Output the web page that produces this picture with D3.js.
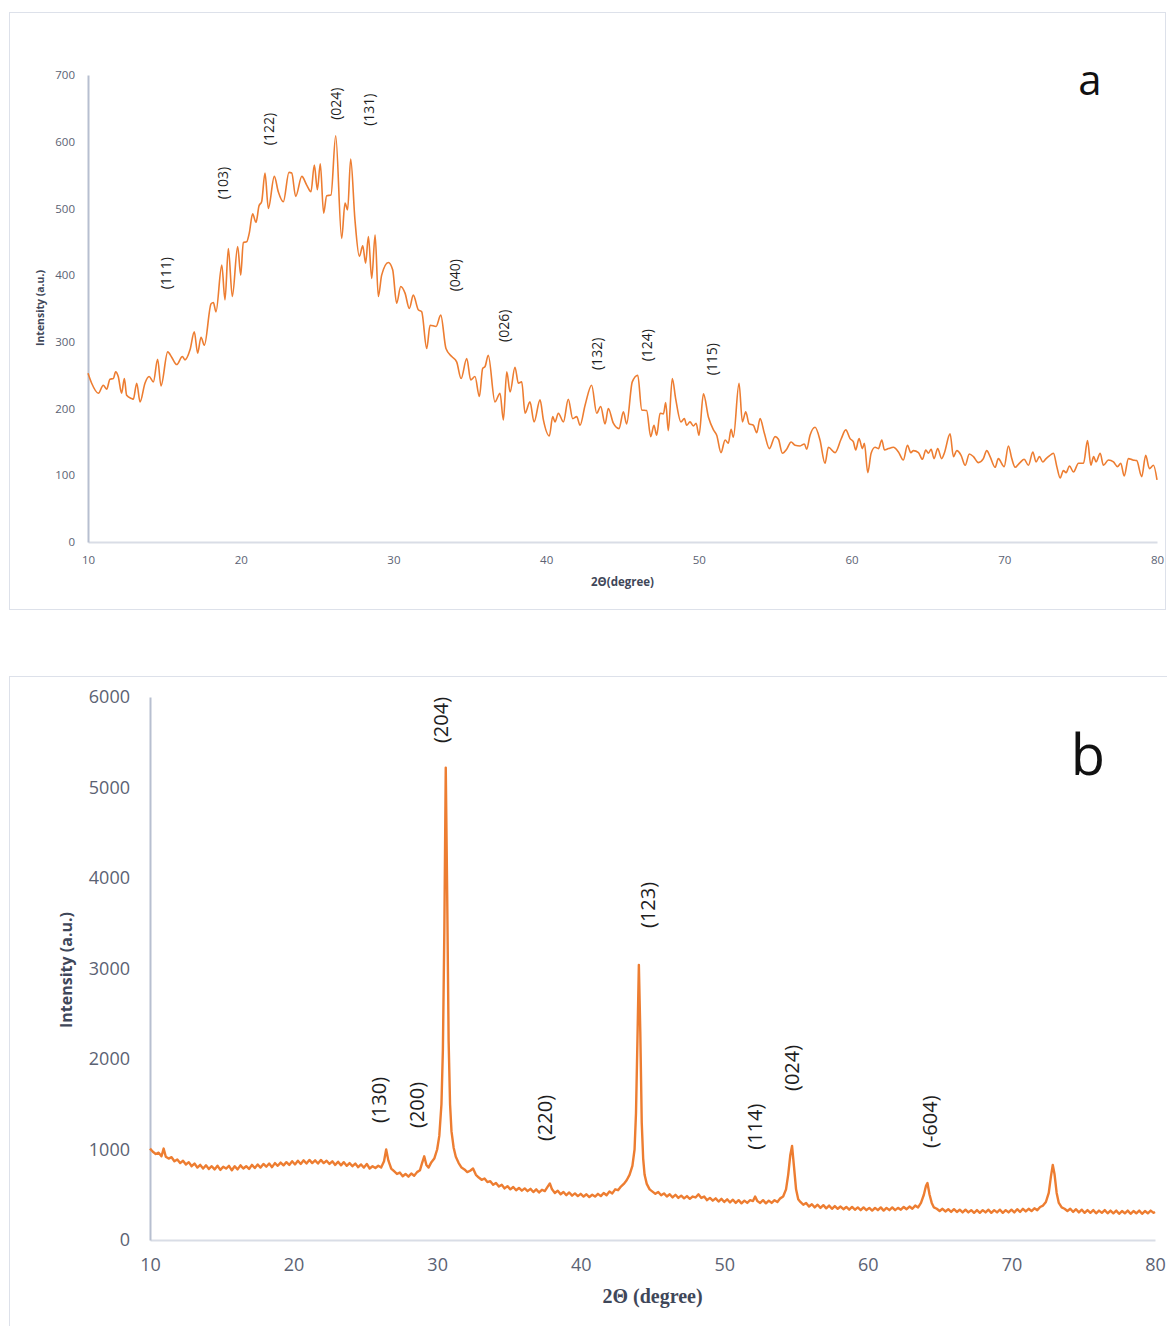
<!DOCTYPE html>
<html>
<head>
<meta charset="utf-8">
<script src="https://cdn.jsdelivr.net/npm/d3@7"></script>
<style>
  body { margin: 0; background: #fff; }
  svg { display: block; font-family: "Open Sans", sans-serif; }
</style>
</head>
<body>
<svg id="chart"></svg>
<script>
var svgWidth = 1167,
    svgHeight = 1326;

// panel a: amorphous pattern, [2theta, intensity]
var patternA = [
  [10.0,253],[10.24,238],[10.68,223],[11.0,235],[11.22,229],[11.44,244],[11.66,245],[11.81,255],[11.98,248],[12.2,223],
  [12.38,245],[12.53,220],[12.86,215],[12.97,214],[13.19,238],[13.41,210],[13.73,238],[14.0,248],[14.28,240],[14.56,274],
  [14.78,234],[15.22,285],[15.48,277],[15.81,266],[16.18,278],[16.35,273],[16.68,288],[16.96,315],[17.18,283],[17.4,307],
  [17.62,295],[18.06,357],[18.21,359],[18.38,345],[18.76,415],[18.97,363],[19.19,440],[19.45,368],[19.8,443],[20.0,400],
  [20.17,449],[20.39,450],[20.56,463],[20.78,492],[21.0,479],[21.2,504],[21.37,510],[21.59,553],[21.81,500],[22.2,548],
  [22.46,525],[22.79,510],[23.16,554],[23.34,553],[23.6,518],[24.0,548],[24.32,535],[24.6,525],[24.82,565],[25.02,528],
  [25.21,567],[25.43,493],[25.63,519],[25.91,520],[26.22,609],[26.61,455],[26.83,508],[27.0,498],[27.2,574],[27.48,483],
  [27.77,428],[27.99,444],[28.18,418],[28.36,458],[28.58,395],[28.8,460],[29.01,368],[29.23,400],[29.67,419],[29.95,408],
  [30.21,358],[30.48,383],[30.76,373],[31.04,350],[31.3,370],[31.63,348],[31.85,345],[32.18,290],[32.4,325],[32.79,323],
  [33.1,340],[33.44,290],[33.82,278],[34.14,270],[34.43,245],[34.8,275],[35.06,243],[35.34,248],[35.63,218],[35.84,260],
  [36.0,263],[36.21,280],[36.65,210],[36.98,223],[37.2,183],[37.42,255],[37.64,225],[37.96,262],[38.18,238],[38.4,240],
  [38.62,193],[38.94,210],[39.21,180],[39.6,213],[39.82,183],[40.21,159],[40.43,188],[40.58,180],[40.8,193],[41.13,180],
  [41.45,214],[41.74,185],[42.0,188],[42.22,175],[42.55,205],[42.98,235],[43.31,193],[43.57,203],[43.86,177],[44.07,200],
  [44.4,178],[44.77,170],[45.06,195],[45.27,177],[45.64,240],[46.0,250],[46.26,198],[46.58,197],[46.85,158],[47.06,175],
  [47.24,160],[47.46,193],[47.68,192],[47.83,209],[48.0,167],[48.26,245],[48.48,215],[48.83,180],[49.05,185],[49.2,175],
  [49.42,180],[49.64,174],[49.82,178],[50.01,160],[50.3,222],[50.63,187],[50.96,168],[51.17,160],[51.45,134],[51.72,153],
  [51.93,148],[52.11,169],[52.26,157],[52.63,238],[52.85,180],[53.07,195],[53.29,177],[53.57,175],[53.79,164],[54.01,185],
  [54.29,163],[54.62,140],[54.99,158],[55.21,154],[55.47,133],[55.75,139],[56.04,150],[56.3,145],[56.63,144],[56.91,147],
  [57.06,139],[57.28,160],[57.61,172],[57.93,153],[58.26,118],[58.48,142],[58.92,134],[59.31,154],[59.62,168],[59.9,155],
  [60.12,150],[60.27,138],[60.49,155],[60.71,140],[60.84,148],[61.06,104],[61.28,133],[61.54,142],[61.76,140],[61.98,153],
  [62.15,138],[62.41,140],[62.74,142],[63.07,135],[63.39,123],[63.66,145],[63.88,134],[64.05,137],[64.38,134],[64.64,124],
  [64.86,138],[65.03,133],[65.21,139],[65.4,125],[65.64,140],[65.9,125],[66.07,133],[66.45,162],[66.67,128],[66.89,137],
  [67.17,130],[67.44,115],[67.71,132],[67.98,128],[68.3,119],[68.63,125],[68.85,137],[69.07,128],[69.4,112],[69.61,125],
  [69.99,113],[70.27,144],[70.49,125],[70.71,112],[71.03,119],[71.3,124],[71.58,115],[71.87,135],[72.08,120],[72.3,128],
  [72.52,120],[72.74,125],[72.95,129],[73.22,133],[73.44,113],[73.66,96],[73.87,107],[74.05,104],[74.27,114],[74.53,105],
  [74.86,118],[75.19,118],[75.45,152],[75.67,115],[75.85,128],[76.01,120],[76.28,133],[76.49,115],[76.82,123],[77.15,120],
  [77.41,113],[77.63,118],[77.85,99],[78.13,125],[78.41,123],[78.67,122],[79.0,98],[79.26,130],[79.5,110],[79.77,115],
  [80.0,93]
];

// panel b: crystalline pattern, [2theta, intensity]
var patternB = [
  [10.0,1010],[10.2,975],[10.4,950],[10.6,965],[10.8,925],[10.95,1010],[11.1,920],[11.3,900],[11.5,915],[11.7,870],
  [11.9,890],[12.1,850],[12.3,875],[12.5,835],[12.7,860],[12.9,815],[13.1,845],[13.3,800],[13.5,830],[13.7,790],
  [13.9,825],[14.1,785],[14.3,815],[14.5,780],[14.7,820],[14.9,775],[15.1,810],[15.3,790],[15.5,820],[15.7,770],
  [15.9,815],[16.1,780],[16.3,825],[16.5,790],[16.7,815],[16.9,785],[17.1,830],[17.3,795],[17.5,835],[17.7,800],
  [17.9,840],[18.1,810],[18.3,845],[18.5,805],[18.7,850],[18.9,820],[19.1,855],[19.3,825],[19.5,860],[19.7,830],
  [19.9,870],[20.1,835],[20.3,875],[20.5,840],[20.7,880],[20.9,845],[21.1,885],[21.3,850],[21.5,880],[21.7,845],
  [21.9,885],[22.1,850],[22.3,875],[22.5,840],[22.7,870],[22.9,830],[23.1,865],[23.3,825],[23.5,860],[23.7,820],
  [23.9,850],[24.1,815],[24.3,845],[24.5,805],[24.7,835],[24.9,800],[25.1,840],[25.3,790],[25.5,815],[25.7,795],
  [25.9,820],[26.1,800],[26.3,870],[26.45,1000],[26.6,880],[26.8,790],[27.0,760],[27.2,730],[27.4,745],[27.6,705],
  [27.8,730],[28.0,700],[28.2,735],[28.4,710],[28.6,750],[28.8,770],[28.95,850],[29.1,925],[29.25,830],[29.4,800],
  [29.6,860],[29.8,900],[30.0,1000],[30.15,1150],[30.3,1500],[30.4,2100],[30.5,3400],[30.6,5220],[30.7,3800],[30.8,2200],
  [30.9,1500],[31.0,1200],[31.15,1020],[31.3,920],[31.5,850],[31.7,800],[31.9,780],[32.1,750],[32.3,765],[32.5,790],
  [32.7,720],[32.9,690],[33.1,665],[33.3,680],[33.5,640],[33.7,650],[33.9,610],[34.1,630],[34.3,590],[34.5,610],
  [34.7,570],[34.9,595],[35.1,560],[35.3,585],[35.5,550],[35.7,575],[35.9,545],[36.1,570],[36.3,540],[36.5,565],
  [36.7,530],[36.9,560],[37.1,525],[37.3,555],[37.5,540],[37.7,590],[37.85,625],[38.0,560],[38.2,520],[38.4,545],
  [38.6,505],[38.8,530],[39.0,495],[39.2,525],[39.4,490],[39.6,515],[39.8,485],[40.0,510],[40.2,480],[40.4,505],
  [40.6,475],[40.8,500],[41.0,480],[41.2,510],[41.4,485],[41.6,520],[41.8,495],[42.0,535],[42.2,515],[42.4,560],
  [42.6,550],[42.8,590],[43.0,620],[43.2,660],[43.4,720],[43.6,820],[43.75,1000],[43.85,1400],[43.95,2200],[44.05,3040],
  [44.15,2300],[44.25,1300],[44.35,900],[44.45,720],[44.6,620],[44.8,560],[45.0,535],[45.2,510],[45.4,530],[45.6,495],
  [45.8,515],[46.0,480],[46.2,505],[46.4,470],[46.6,500],[46.8,465],[47.0,490],[47.2,460],[47.4,485],[47.6,455],
  [47.8,480],[48.0,470],[48.2,505],[48.4,465],[48.6,480],[48.8,440],[49.0,465],[49.2,435],[49.4,460],[49.6,425],
  [49.8,455],[50.0,420],[50.2,450],[50.4,415],[50.6,445],[50.8,410],[51.0,440],[51.2,405],[51.4,435],[51.6,410],
  [51.8,440],[52.0,430],[52.15,480],[52.3,430],[52.5,410],[52.7,440],[52.9,405],[53.1,435],[53.3,410],[53.5,440],
  [53.7,420],[53.9,460],[54.1,480],[54.3,560],[54.45,720],[54.6,940],[54.72,1040],[54.85,820],[55.0,560],[55.15,450],
  [55.3,420],[55.5,390],[55.7,410],[55.9,370],[56.1,395],[56.3,360],[56.5,390],[56.7,355],[56.9,385],[57.1,350],
  [57.3,380],[57.5,345],[57.7,375],[57.9,345],[58.1,370],[58.3,340],[58.5,365],[58.7,335],[58.9,365],[59.1,335],
  [59.3,360],[59.5,330],[59.7,360],[59.9,330],[60.1,355],[60.3,325],[60.5,355],[60.7,330],[60.9,360],[61.1,325],
  [61.3,355],[61.5,330],[61.7,360],[61.9,330],[62.1,355],[62.3,335],[62.5,365],[62.7,340],[62.9,370],[63.1,345],
  [63.3,380],[63.5,360],[63.7,410],[63.9,500],[64.05,600],[64.15,630],[64.3,500],[64.45,410],[64.6,360],[64.8,345],
  [65.0,320],[65.2,345],[65.4,315],[65.6,340],[65.8,310],[66.0,340],[66.2,310],[66.4,335],[66.6,305],[66.8,335],
  [67.0,305],[67.2,330],[67.4,300],[67.6,330],[67.8,300],[68.0,330],[68.2,305],[68.4,335],[68.6,300],[68.8,330],
  [69.0,305],[69.2,335],[69.4,300],[69.6,330],[69.8,305],[70.0,335],[70.2,305],[70.4,340],[70.6,310],[70.8,345],
  [71.0,315],[71.2,345],[71.4,320],[71.6,350],[71.8,330],[72.0,365],[72.2,380],[72.4,420],[72.6,520],[72.75,700],
  [72.88,830],[73.0,730],[73.15,520],[73.3,410],[73.5,360],[73.7,345],[73.9,320],[74.1,345],[74.3,310],[74.5,340],
  [74.7,305],[74.9,335],[75.1,300],[75.3,330],[75.5,300],[75.7,330],[75.9,295],[76.1,325],[76.3,300],[76.5,330],
  [76.7,295],[76.9,325],[77.1,295],[77.3,325],[77.5,290],[77.7,320],[77.9,295],[78.1,325],[78.3,290],[78.5,320],
  [78.7,295],[78.9,325],[79.1,290],[79.3,320],[79.5,295],[79.7,325],[79.9,300],[80.0,310]
];

// miller index labels: [text, 2theta, intensity at label centre]
var labelsA = [
  ['(111)',15.1,403],['(103)',18.84,538],['(122)',21.85,619],['(024)',26.18,657],['(131)',28.4,648],
  ['(040)',34.03,400],['(026)',37.18,324],['(132)',43.27,282],['(124)',46.54,295],['(115)',50.86,274]
];
var labelsB = [
  ['(130)',25.94,1547],['(200)',28.59,1492],['(204)',30.26,5746],['(220)',37.51,1348],
  ['(123)',44.68,3702],['(114)',52.1,1252],['(024)',54.68,1901],['(-604)',64.29,1307]
];

var xTicks = [10, 20, 30, 40, 50, 60, 70, 80];
var yTicksA = [0, 100, 200, 300, 400, 500, 600, 700];
var yTicksB = [0, 1000, 2000, 3000, 4000, 5000, 6000];

var lineColor = '#ed7d31',
    tickColor = '#5b6273',
    titleColor = '#3f4759';

var svg = d3.select('#chart')
    .attr('width', svgWidth)
    .attr('height', svgHeight);

// panel frames
svg.append('rect').attr('x', 9.5).attr('y', 12.5).attr('width', 1156).attr('height', 597)
    .attr('fill', 'none').attr('stroke', '#dde1ea');
svg.append('rect').attr('x', 9.5).attr('y', 676.5).attr('width', 1160).attr('height', 660)
    .attr('fill', 'none').attr('stroke', '#dde1ea');

var drawPanel = function(opt) {
    var x = d3.scaleLinear().domain([10, 80]).range([opt.left, opt.right]),
        y = d3.scaleLinear().domain([0, opt.yMax]).range([opt.bottom, opt.top]);

    var g = svg.append('g');

    var xAxis = g.append('g')
        .attr('transform', 'translate(0,' + opt.bottom + ')')
        .call(d3.axisBottom(x).tickValues(xTicks).tickFormat(d3.format('d')).tickSize(0).tickPadding(opt.xPad));
    xAxis.select('.domain').attr('stroke', '#d9dde6').attr('stroke-width', 2);
    xAxis.selectAll('text').attr('fill', tickColor).style('font-size', opt.tickFont + 'px')
        .style('font-family', '"Open Sans", sans-serif');

    var yAxis = g.append('g')
        .attr('transform', 'translate(' + opt.left + ',0)')
        .call(d3.axisLeft(y).tickValues(opt.yTicks).tickFormat(d3.format('d')).tickSize(0).tickPadding(opt.yPad));
    yAxis.select('.domain').attr('stroke', '#b7bfd0').attr('stroke-width', 2);
    yAxis.selectAll('text').attr('fill', tickColor).style('font-size', opt.tickFont + 'px')
        .style('font-family', '"Open Sans", sans-serif');

    var line = d3.line()
        .x(function(d) { return x(d[0]); })
        .y(function(d) { return y(d[1]); })
        .curve(opt.curve);

    g.append('path')
        .datum(opt.data)
        .attr('d', line)
        .attr('fill', 'none')
        .attr('stroke', lineColor)
        .attr('stroke-width', opt.lineWidth)
        .attr('stroke-linejoin', 'round');

    g.selectAll('.hkl')
        .data(opt.labels)
        .enter().append('text')
        .attr('class', 'hkl')
        .attr('transform', function(d) { return 'translate(' + x(d[1]) + ',' + y(d[2]) + ') rotate(-90)'; })
        .attr('text-anchor', 'middle')
        .attr('dominant-baseline', 'central')
        .attr('fill', '#1e1e1e')
        .style('font-size', opt.labelFont + 'px')
        .text(function(d) { return d[0]; });

    // axis titles
    g.append('text')
        .attr('x', (opt.left + opt.right) / 2)
        .attr('y', opt.xTitleY)
        .attr('text-anchor', 'middle')
        .attr('fill', titleColor)
        .style('font-weight', 'bold')
        .style('font-size', opt.xTitleFont + 'px')
        .style('font-family', opt.xTitleFamily)
        .text(opt.xTitle);

    g.append('text')
        .attr('transform', 'translate(' + opt.yTitleX + ',' + opt.yTitleY + ') rotate(-90)')
        .attr('text-anchor', 'middle')
        .attr('fill', titleColor)
        .style('font-weight', 'bold')
        .style('font-size', opt.yTitleFont + 'px')
        .text('Intensity (a.u.)');

    g.append('text')
        .attr('x', opt.tag[0])
        .attr('y', opt.tag[1])
        .attr('text-anchor', 'middle')
        .attr('fill', '#111')
        .style('font-size', opt.tagFont + 'px')
        .text(opt.tagText);
};

drawPanel({
    data: patternA, labels: labelsA, yTicks: yTicksA, yMax: 700,
    left: 88, right: 1157, top: 75, bottom: 542,
    curve: d3.curveMonotoneX, lineWidth: 1.6,
    tickFont: 11.5, xPad: 14, yPad: 13, labelFont: 14,
    xTitle: '2\u0398(degree)', xTitleY: 586, xTitleFont: 11.5, xTitleFamily: '"Open Sans", sans-serif',
    yTitleX: 44, yTitleY: 308, yTitleFont: 10.5,
    tag: [1090, 95], tagFont: 42, tagText: 'a'
});

drawPanel({
    data: patternB, labels: labelsB, yTicks: yTicksB, yMax: 6000,
    left: 150, right: 1155, top: 697, bottom: 1240,
    curve: d3.curveLinear, lineWidth: 2.4,
    tickFont: 18, xPad: 18, yPad: 20, labelFont: 20,
    xTitle: '2\u0398 (degree)', xTitleY: 1303, xTitleFont: 20, xTitleFamily: '"Liberation Serif", serif',
    yTitleX: 72, yTitleY: 970, yTitleFont: 16,
    tag: [1088, 775], tagFont: 56, tagText: 'b'
});
</script>
</body>
</html>
